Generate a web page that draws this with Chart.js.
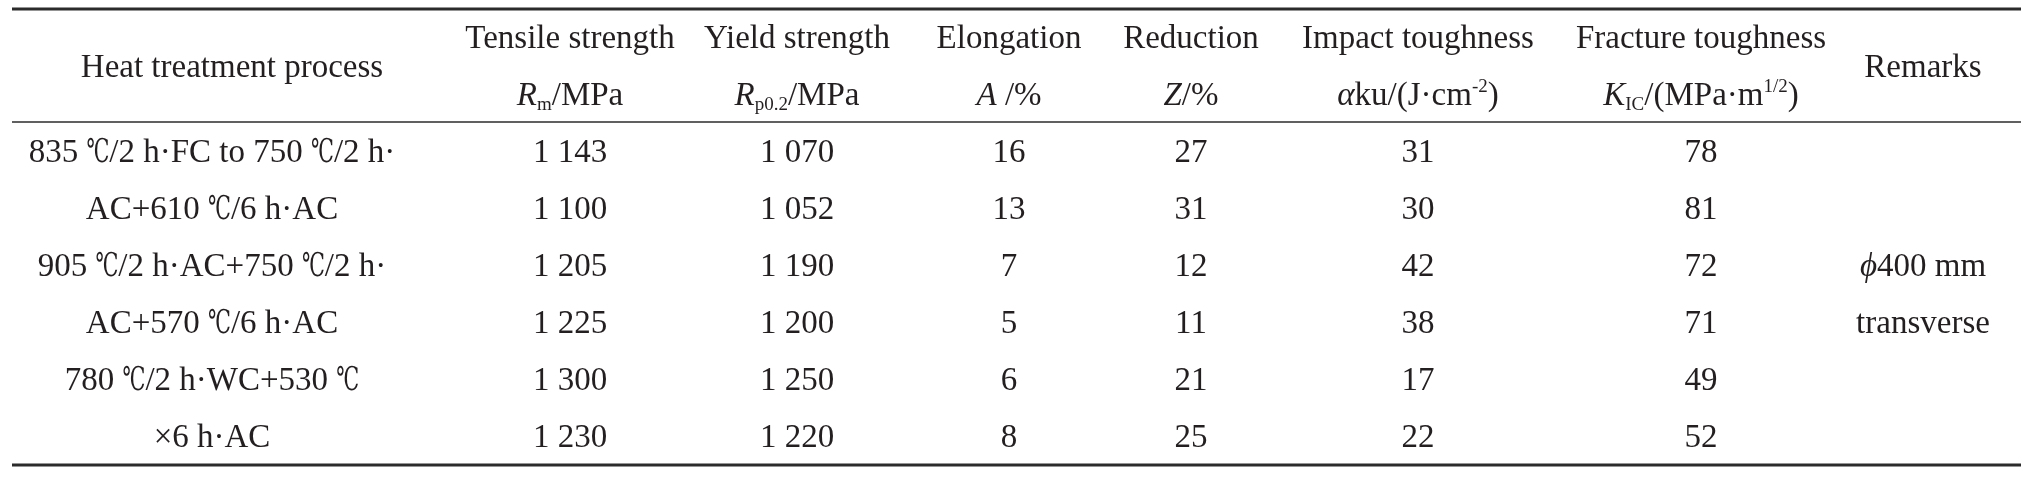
<!DOCTYPE html>
<html>
<head>
<meta charset="utf-8">
<title>Heat treatment properties</title>
<script src="https://cdn.jsdelivr.net/npm/chart.js@4.4.1/dist/chart.umd.min.js"></script>
<style>
  html, body { margin: 0; padding: 0; background: #fff; }
  #table-chart { display: block; }
</style>
</head>
<body>
<canvas id="table-chart" width="2035" height="495"></canvas>
<script>
// table content
const headers = ["Heat treatment process", "Tensile strength", "Yield strength", "Elongation",
                 "Reduction", "Impact toughness", "Fracture toughness", "Remarks"];
// unit lines: [text, style] runs, style = i (italic), sub, sup
const units = [
    null,
    [["R", "i"], ["m", "sub"], ["/MPa"]],
    [["R", "i"], ["p0.2", "sub"], ["/MPa"]],
    [["A", "i"], [" /%"]],
    [["Z", "i"], ["/%"]],
    [["α", "i"], ["ku/(J·cm"], ["-2", "sup"], [")"]],
    [["K", "i"], ["IC", "sub"], ["/(MPa·m"], ["1/2", "sup"], [")"]],
    null
];
const processSteps = ["835 ℃/2 h·FC to 750 ℃/2 h·", "AC+610 ℃/6 h·AC", "905 ℃/2 h·AC+750 ℃/2 h·",
                      "AC+570 ℃/6 h·AC", "780 ℃/2 h·WC+530 ℃", "×6 h·AC"];
const tensileStrength = [1143, 1100, 1205, 1225, 1300, 1230];
const yieldStrength = [1070, 1052, 1190, 1200, 1250, 1220];
const elongation = [16, 13, 7, 5, 6, 8];
const reduction = [27, 31, 12, 11, 21, 25];
const impactToughness = [31, 30, 42, 38, 17, 22];
const fractureToughness = [78, 81, 72, 71, 49, 52];
const remarks = ["", "", "ϕ400 mm", "transverse", "", ""];

// layout: column centres on the x scale, text baselines / rules on the y scale (row units)
const colX = [212, 570, 797, 1009, 1191, 1418, 1701, 1923];
const headX = [232, 570, 797, 1009, 1191, 1418, 1701, 1923];
const headLine1 = -2, headLine2 = -1, headMid = -1.5;
const rules = [{ y: -2.684, w: 2.8 }, { y: -0.702, w: 1.6 }, { y: 5.316, w: 2.8 }];
const ruleFrom = 12, ruleTo = 2021;

const FONT = "'Liberation Serif', 'Times New Roman', 'DejaVu Serif', serif";
const SIZE = 33;
const INK = "#231f20";
const DEG_SQUEEZE = 0.62;

function fmt(v) {
    if (v < 1000) return String(v);
    return Math.floor(v / 1000) + " " + String(v % 1000).padStart(3, "0");
}

// split plain text so the degree sign can be drawn a little narrower
function toRuns(text, style) {
    const out = [];
    text.split(/(℃)/).forEach(part => {
        if (!part) return;
        out.push(part === "℃" ? [part, "deg"] : [part, style]);
    });
    return out;
}

function fontFor(style) {
    const small = style === "sub" || style === "sup";
    const sz = small ? Math.round(SIZE * 0.58) : SIZE;
    return (style === "i" ? "italic " : "") + sz + "px " + FONT;
}

function drawRuns(ctx, runs, cx, cy) {
    let total = 0;
    const widths = runs.map(r => {
        ctx.font = fontFor(r[1]);
        let w = ctx.measureText(r[0]).width;
        if (r[1] === "deg") w *= DEG_SQUEEZE;
        total += w;
        return w;
    });
    let x = cx - total / 2;
    runs.forEach((r, k) => {
        ctx.font = fontFor(r[1]);
        let dy = 0;
        if (r[1] === "sub") dy = SIZE * 0.16;
        if (r[1] === "sup") dy = -SIZE * 0.38;
        if (r[1] === "deg") {
            ctx.save();
            ctx.translate(x, cy);
            ctx.scale(DEG_SQUEEZE, 1);
            ctx.fillText(r[0], 0, 0);
            ctx.restore();
        } else {
            ctx.fillText(r[0], x, cy + dy);
        }
        x += widths[k];
    });
}

const columns = [
    processSteps,
    tensileStrength.map(fmt),
    yieldStrength.map(fmt),
    elongation.map(String),
    reduction.map(String),
    impactToughness.map(String),
    fractureToughness.map(String),
    remarks
];

function cellRuns(text) {
    if (text.startsWith("ϕ")) return [["ϕ", "i"]].concat(toRuns(text.slice(1)));
    return toRuns(text);
}

const datasets = [];

// horizontal rules
rules.forEach(r => {
    datasets.push({
        data: [{ x: ruleFrom, y: r.y }, { x: ruleTo, y: r.y }],
        showLine: true,
        borderColor: "#2b2b2b",
        borderWidth: r.w,
        pointRadius: 0
    });
});

// header cells
headers.forEach((h, c) => {
    if (units[c]) {
        datasets.push({ data: [{ x: headX[c], y: headLine1 }], cells: [toRuns(h)], pointRadius: 0 });
        datasets.push({ data: [{ x: headX[c], y: headLine2 }], cells: [units[c]], pointRadius: 0 });
    } else {
        datasets.push({ data: [{ x: headX[c], y: headMid }], cells: [toRuns(h)], pointRadius: 0 });
    }
});

// body cells
columns.forEach((col, c) => {
    datasets.push({
        data: col.map((_, r) => ({ x: colX[c], y: r })),
        cells: col.map(cellRuns),
        pointRadius: 0
    });
});

const cellText = {
    id: "cellText",
    afterDatasetsDraw(chart) {
        const ctx = chart.ctx;
        ctx.save();
        ctx.fillStyle = INK;
        ctx.textBaseline = "alphabetic";
        ctx.textAlign = "left";
        chart.data.datasets.forEach((ds, i) => {
            if (!ds.cells) return;
            chart.getDatasetMeta(i).data.forEach((pt, j) => {
                const runs = ds.cells[j];
                if (!runs || !runs.length) return;
                drawRuns(ctx, runs, pt.x, pt.y);
            });
        });
        ctx.restore();
    }
};

const whiteBg = {
    id: "whiteBg",
    beforeDraw(chart) {
        const ctx = chart.ctx;
        ctx.save();
        ctx.fillStyle = "#fff";
        ctx.fillRect(0, 0, chart.width, chart.height);
        ctx.restore();
    }
};

new Chart(document.getElementById("table-chart"), {
    type: "scatter",
    data: { datasets: datasets },
    options: {
        responsive: false,
        animation: false,
        events: [],
        layout: { padding: 0 },
        plugins: { legend: { display: false }, tooltip: { enabled: false } },
        scales: {
            x: { type: "linear", display: false, min: 0, max: 2035 },
            y: { type: "linear", display: false, reverse: true, min: -162 / 57, max: -162 / 57 + 495 / 57 }
        }
    },
    plugins: [whiteBg, cellText]
});
</script>
</body>
</html>
